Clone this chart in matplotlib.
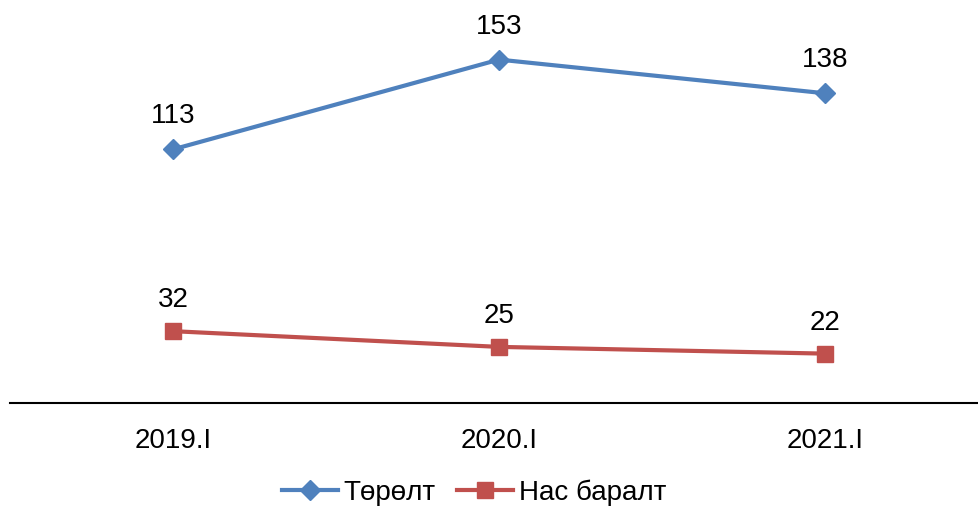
import matplotlib
matplotlib.use("Agg")
import matplotlib.pyplot as plt

categories = ["2019.I", "2020.I", "2021.I"]
births = [113, 153, 138]
deaths = [32, 25, 22]
series_names = ["Төрөлт", "Нас баралт"]

plt.rcParams['font.family'] = ['Liberation Sans', 'DejaVu Sans']

W, H = 979, 510
fig = plt.figure(figsize=(W / 100, H / 100), dpi=100)
ax = fig.add_axes([10 / W, 1 - 404 / H, (979 - 10) / W, 404 / H])

x = list(range(len(categories)))
blue = "#4F81BD"
red = "#C0504D"
l1, = ax.plot(x, births, color=blue, lw=3, marker="D", markersize=10, label=series_names[0])
l2, = ax.plot(x, deaths, color=red, lw=3, marker="s", markersize=12, label=series_names[1])

FS = 20
for xi, v in zip(x, births):
    ax.annotate(str(v), (xi, v), xytext=(0, 34), textcoords="offset pixels",
                ha="center", va="center", fontsize=FS)
for xi, v in zip(x, deaths):
    ax.annotate(str(v), (xi, v), xytext=(0, 32), textcoords="offset pixels",
                ha="center", va="center", fontsize=FS)

ax.set_ylim(0, 180)
ax.set_xlim(-0.5, 2.5 - 9 / 326)
ax.set_xticks(x)
ax.set_xticklabels(categories, fontsize=FS)
ax.tick_params(axis="x", length=0, pad=17)
ax.set_yticks([])
for s in ["top", "right", "left"]:
    ax.spines[s].set_visible(False)
ax.spines["bottom"].set_linewidth(1.5)
ax.spines["bottom"].set_color("black")
ax.patch.set_alpha(0)

fig.legend(handles=[l1, l2], loc="center", bbox_to_anchor=(474 / W, 1 - 493 / H),
           ncol=2, frameon=False, fontsize=FS, handlelength=2.0, handletextpad=0.2,
           columnspacing=0.8, borderpad=0, borderaxespad=0)

fig.savefig("out.png", dpi=100)
